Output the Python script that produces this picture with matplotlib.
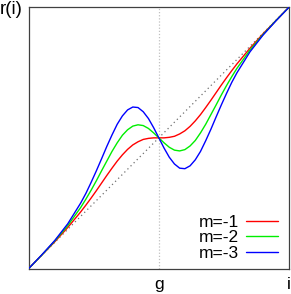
import matplotlib
matplotlib.use("Agg")
import matplotlib.pyplot as plt

plt.rcParams["font.family"] = ["Liberation Sans", "DejaVu Sans"]

# sample positions along i (0..1, g at 0.5)
I = [0.00, 0.05, 0.10, 0.15, 0.20, 0.22, 0.24, 0.26, 0.28, 0.30, 0.32, 0.34,
     0.36, 0.38, 0.40, 0.42, 0.44, 0.46, 0.48, 0.50, 0.52, 0.54, 0.56, 0.58,
     0.60, 0.62, 0.64, 0.66, 0.68, 0.70, 0.72, 0.74, 0.76, 0.78, 0.80, 0.85,
     0.90, 0.95, 1.00]

R_M1 = [0.000, 0.051, 0.102, 0.157, 0.217, 0.243, 0.270, 0.298, 0.327, 0.356,
        0.384, 0.411, 0.435, 0.456, 0.473, 0.485, 0.494, 0.498, 0.500, 0.500,
        0.500, 0.502, 0.506, 0.515, 0.527, 0.544, 0.565, 0.589, 0.616, 0.644,
        0.673, 0.702, 0.730, 0.757, 0.783, 0.843, 0.898, 0.949, 1.000]
R_M2 = [0.000, 0.051, 0.105, 0.164, 0.234, 0.266, 0.300, 0.336, 0.374, 0.411,
        0.448, 0.481, 0.510, 0.531, 0.545, 0.550, 0.547, 0.536, 0.519, 0.500,
        0.481, 0.464, 0.453, 0.450, 0.455, 0.469, 0.490, 0.519, 0.552, 0.589,
        0.626, 0.664, 0.700, 0.734, 0.766, 0.836, 0.895, 0.949, 1.000]
R_M3 = [0.000, 0.052, 0.107, 0.171, 0.251, 0.288, 0.330, 0.374, 0.420, 0.467,
        0.511, 0.552, 0.584, 0.607, 0.618, 0.616, 0.600, 0.574, 0.539, 0.500,
        0.461, 0.426, 0.400, 0.384, 0.382, 0.393, 0.416, 0.448, 0.489, 0.533,
        0.580, 0.626, 0.670, 0.712, 0.749, 0.829, 0.893, 0.948, 1.000]

SERIES = [("m=-1", R_M1, "#ff0000"), ("m=-2", R_M2, "#00ee00"), ("m=-3", R_M3, "#0000ff")]
G = 0.5
XTICKS = [G, 1.0]
XTICKLABELS = ["g", "i"]

fig = plt.figure(figsize=(2.91, 2.94), dpi=100)
ax = fig.add_axes([0.0986, 0.0867, 0.8945, 0.8888])

# identity line and the g marker
ax.plot([0, 1], [0, 1], color="#707070", lw=0.9, ls=(0, (1, 2.5)), zorder=1)
ax.axvline(G, color="#c0c0c0", lw=0.9, ls=(0, (1, 1.5)), zorder=1)

for lab, ys, col in SERIES:
    ax.plot(I, ys, color=col, lw=1.0, label=lab, zorder=3, solid_capstyle="round")

ax.set_xlim(0, 1)
ax.set_ylim(0, 1)
ax.set_xticks(XTICKS, XTICKLABELS, fontsize=12.5)
ax.set_yticks([])
ax.tick_params(axis="x", length=0, pad=6, colors="black")
for sp in ax.spines.values():
    sp.set_color("#404040")
    sp.set_linewidth(0.9)

fig.text(0.0, 0.966, "r(i)", fontsize=13.5, ha="left", va="center")

ax.legend(loc="lower right", frameon=False, fontsize=12.5, markerfirst=False,
          handlelength=1.85, handletextpad=0.4, labelspacing=0.02,
          borderpad=0, borderaxespad=0, bbox_to_anchor=(0.957, 0.03))

fig.savefig("out.png", dpi=100)
